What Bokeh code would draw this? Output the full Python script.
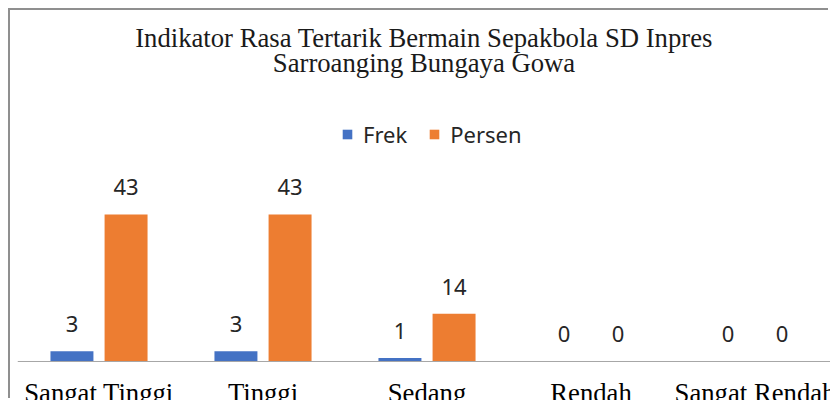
from bokeh.plotting import figure
from bokeh.models import (Range1d, Title, Legend, LegendItem, Span, ColumnDataSource,
                          GlobalInlineStyleSheet)
from bokeh.transform import dodge
from bokeh.core.properties import value
from bokeh.embed import file_html
from bokeh.resources import INLINE

# ---- data ----
categories = ["Sangat Tinggi", "Tinggi", "Sedang", "Rendah", "Sangat Rendah"]
frek = [3, 3, 1, 0, 0]
persen = [43, 43, 14, 0, 0]
series_names = ["Frek", "Persen"]
title_lines = ["Indikator Rasa Tertarik Bermain Sepakbola SD Inpres",
               "Sarroanging Bungaya Gowa"]

# ---- style ----
BLUE = "#4472C4"
ORANGE = "#ED7D31"
SERIF = "Liberation Serif"
SANS = "Noto Sans"
BAR_W = 0.262
OFF = 0.165

src = ColumnDataSource(dict(
    idx=list(range(len(categories))),
    cat=categories,
    frek=frek,
    persen=persen,
    frek_lbl=[str(v) for v in frek],
    persen_lbl=[str(v) for v in persen],
    base=[0] * len(categories),
))

p = figure(width=820, height=390, output_backend="svg", toolbar_location=None,
           x_range=Range1d(-0.497, 4.4604), y_range=Range1d(-11.41, 83.07),
           x_axis_location=None, y_axis_location=None,
           min_border_left=7, min_border_right=0, min_border_top=67, min_border_bottom=0,
           styles={"margin-left": "10px", "margin-top": "10px",
                   "box-shadow": "-2px -2px 0 0 #8f8f8f"})
p.stylesheets = [
    GlobalInlineStyleSheet(css="html, body { overflow: hidden !important; }"),
]
p.title = None
p.grid.visible = False
p.outline_line_color = None
p.background_fill_color = "white"
p.border_fill_color = "white"

r1 = p.vbar(x=dodge("idx", -OFF), top="frek", width=BAR_W, source=src,
            fill_color=BLUE, line_color=None)
r2 = p.vbar(x=dodge("idx", OFF), top="persen", width=BAR_W, source=src,
            fill_color=ORANGE, line_color=None)

p.add_layout(Span(location=0, dimension="width", line_color="#a6a6a6", line_width=1))

p.text(x=dodge("idx", -OFF), y="frek", text="frek_lbl", source=src,
       text_align="center", text_baseline="alphabetic", y_offset=-27,
       text_font=value(SANS), text_font_size="22px", text_color="#262626")
p.text(x=dodge("idx", OFF), y="persen", text="persen_lbl", source=src,
       text_align="center", text_baseline="alphabetic", y_offset=-27,
       text_font=value(SANS), text_font_size="22px", text_color="#262626")

# category labels
p.text(x="idx", y="base", text="cat", source=src,
       text_align="center", text_baseline="alphabetic", y_offset=31.5,
       text_font=value(SERIF), text_font_size="26.7px", text_color="#000000")

legend = Legend(items=[LegendItem(label=series_names[0], renderers=[r1]),
                       LegendItem(label=series_names[1], renderers=[r2])],
                location=(324, 251), orientation="horizontal",
                glyph_width=12, glyph_height=12, label_standoff=10, spacing=21,
                padding=0, margin=0, border_line_color=None, background_fill_alpha=0,
                label_text_font=SANS, label_text_font_size="22px",
                label_text_color="#262626")
p.add_layout(legend)

# title: second line sits next to the plot area, first line above it
p.add_layout(Title(text=title_lines[1], align="center", text_font=SERIF,
                   text_font_size="26.7px", text_font_style="normal",
                   text_color="#1a1a1a", standoff=0), "above")
p.add_layout(Title(text=title_lines[0], align="center", text_font=SERIF,
                   text_font_size="26.7px", text_font_style="normal",
                   text_color="#1a1a1a", standoff=-15), "above")

open("out.html", "w").write(file_html(p, INLINE))
